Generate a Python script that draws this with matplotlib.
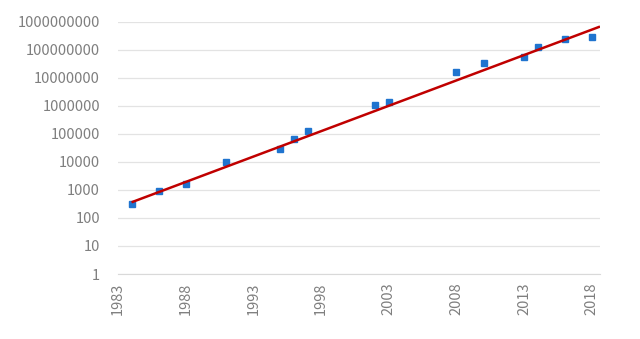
import numpy as np
import matplotlib
matplotlib.use("Agg")
import matplotlib.pyplot as plt
from matplotlib.ticker import FixedLocator, FuncFormatter

years = [1984, 1986, 1988, 1991, 1995, 1996, 1997, 2002, 2003, 2008, 2010, 2013, 2014, 2016, 2018]
values = [305, 930, 1600, 9500, 28500, 64000, 125000, 1.05e6, 1.38e6, 1.55e7, 3.2e7, 5.5e7, 1.2e8, 2.4e8, 2.9e8]
# exponential trendline: value at start year and end year
trend_years = [1984, 2018.6]
trend_values = [360, 6.6e8]
x_ticks = [1983, 1988, 1993, 1998, 2003, 2008, 2013, 2018]
y_ticks = [1, 10, 100, 1000, 10000, 100000, 1000000, 10000000, 100000000, 1000000000]

plt.rcParams['font.family'] = ['Noto Sans CJK SC', 'DejaVu Sans']

fig = plt.figure(figsize=(6.4, 3.39), dpi=100)
ax = fig.add_axes([118 / 640, 1 - 274 / 339, 482 / 640, 252.5 / 339])

ax.set_yscale('log')
ax.set_ylim(1, 1e9)
ax.set_xlim(1983, 2018.6)

# exponential trend: straight line in log space between the two read values
tx = np.linspace(trend_years[0], trend_years[1], 50)
ty = 10 ** np.interp(tx, trend_years, np.log10(trend_values))
ax.plot(tx, ty, color='#C00000', lw=1.8, zorder=3, solid_capstyle='butt')

ax.plot(years, values, linestyle='none', marker='s', markersize=5, color='#1F74CF', zorder=2)

ax.yaxis.set_major_locator(FixedLocator(y_ticks))
ax.yaxis.set_minor_locator(FixedLocator([]))
ax.yaxis.set_major_formatter(FuncFormatter(lambda v, p: f"{int(round(v))}"))
ax.set_xticks(x_ticks)
ax.set_xticklabels([str(t) for t in x_ticks], rotation=90)

ax.grid(axis='y', color='#E3E3E3', lw=0.9)
ax.set_axisbelow(True)
for s in ['top', 'right', 'left']:
    ax.spines[s].set_visible(False)
ax.spines['bottom'].set_color('#D9D9D9')
ax.tick_params(axis='both', length=0, labelsize=10.5, colors='#7F7F7F')
ax.tick_params(axis='y', pad=13)
ax.tick_params(axis='x', pad=6)
for lbl in ax.get_xticklabels() + ax.get_yticklabels():
    lbl.set_fontweight('light')

fig.savefig('out.png', dpi=100)
